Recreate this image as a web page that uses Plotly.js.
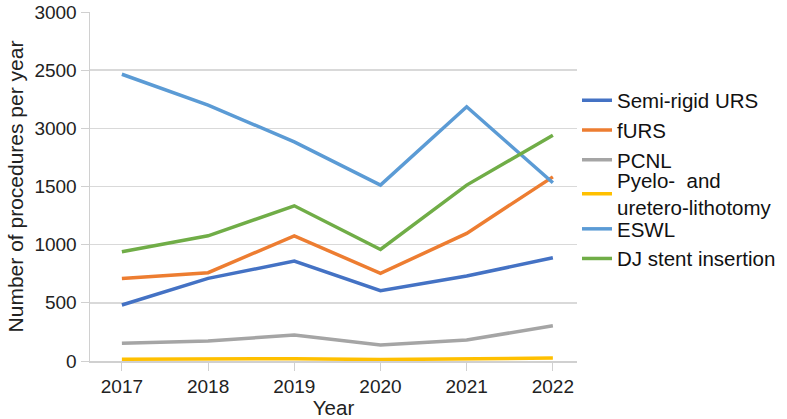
<!DOCTYPE html>
<html>
<head>
<meta charset="utf-8">
<script src="https://cdn.plot.ly/plotly-3.0.1.min.js"></script>
<style>html,body{margin:0;padding:0;background:#fff;}#chart{width:787px;height:419px;}</style>
</head>
<body>
<div id="chart"></div>
<script>
const years = [2017, 2018, 2019, 2020, 2021, 2022];
const seriesNames = ["Semi-rigid URS", "fURS", "PCNL", "Pyelo-  and<br>uretero-lithotomy", "ESWL", "DJ stent insertion"];
const semiRigidURS = [481, 710, 859, 604, 730, 887];
const fURS = [710, 759, 1076, 753, 1097, 1583];
const pcnl = [152, 172, 223, 137, 180, 303];
const pyeloLithotomy = [15, 15, 20, 12, 15, 25];
const eswl = [2465, 2199, 1884, 1512, 2185, 1532];
const djStent = [939, 1076, 1334, 959, 1512, 1941];
const yTickVals = [0, 500, 1000, 1500, 2000, 2500, 3000];
const yTickText = ["0", "500", "1000", "1500", "3000", "2500", "3000"];
const colors = ["#4472C4", "#ED7D31", "#A5A5A5", "#FFC000", "#5B9BD5", "#70AD47"];
const legendIds = ["legend", "legend", "legend", "legend2", "legend3", "legend3"];

const allSeries = [semiRigidURS, fURS, pcnl, pyeloLithotomy, eswl, djStent];
const traces = allSeries.map((vals, i) => ({
  x: years, y: vals, type: "scatter", mode: "lines", name: seriesNames[i],
  line: {color: colors[i], width: 3.5}, legend: legendIds[i]
}));

function legendBox(yCenterPx) {
  return {xref: "container", yref: "container", x: 577 / 787, xanchor: "left",
          y: 1 - yCenterPx / 419, yanchor: "middle",
          font: {size: 20.5, color: "#111"}, traceorder: "normal", itemwidth: 30,
          bgcolor: "rgba(0,0,0,0)"};
}

const layout = {
  width: 787, height: 419,
  margin: {l: 90, r: 210, t: 12, b: 58},
  paper_bgcolor: "#fff", plot_bgcolor: "#fff",
  font: {family: "Liberation Sans, Arial, sans-serif", size: 19, color: "#222"},
  showlegend: true,
  legend: legendBox(130),
  legend2: legendBox(194),
  legend3: legendBox(244),
  xaxis: {
    range: [2016.63, 2022.28], tickvals: years, ticktext: years.map(String),
    showgrid: false, zeroline: false, showline: true, linecolor: "#d0d0d0", linewidth: 1.5,
    ticks: "outside", ticklen: 8, tickcolor: "#d0d0d0",
    tickfont: {size: 19, color: "#222"},
    title: {text: "Year", font: {size: 20.5, color: "#222"}, standoff: 2}
  },
  yaxis: {
    range: [0, 3000], tickvals: yTickVals, ticktext: yTickText,
    showgrid: true, gridcolor: "#d9d9d9", gridwidth: 1.5, zeroline: false,
    showline: true, linecolor: "#d0d0d0", linewidth: 1.5,
    ticks: "outside", ticklen: 8, tickcolor: "#d0d0d0",
    tickfont: {size: 19, color: "#222"},
    title: {text: "Number of procedures per year", font: {size: 21, color: "#222"}, standoff: 5}
  }
};
Plotly.newPlot("chart", traces, layout, {staticPlot: true});
</script>
</body>
</html>
